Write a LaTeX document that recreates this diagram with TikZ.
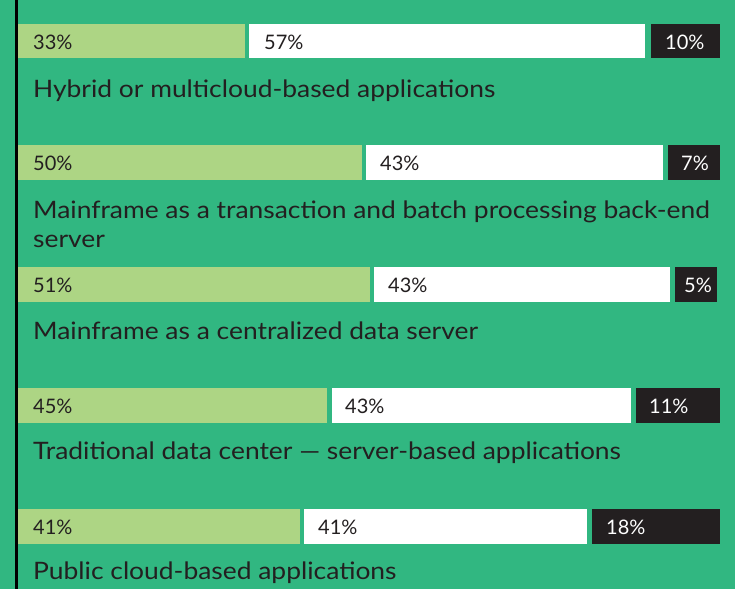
\documentclass[tikz,border=0pt]{standalone}
\usepackage{fontspec}
\setmainfont{Lato}
\newfontfamily\wideLato{Lato}[FakeStretch=1.1]
\usetikzlibrary{positioning}
\definecolor{bgGreen}{HTML}{31B781}
\definecolor{barGreen}{HTML}{ADD584}
\definecolor{barBlack}{HTML}{231F20}
\definecolor{inkDark}{HTML}{231F20}
\begin{document}
\begin{tikzpicture}[x=1pt, y=-1pt,
    pct/.style={anchor=base west, inner sep=0pt, font=\fontsize{20}{22}\selectfont, text=inkDark},
    pctw/.style={pct, text=white},
    lbl/.style={anchor=base west, inner sep=0pt, align=left, font=\wideLato\fontsize{24}{29}\selectfont, text=inkDark}]
    \fill[bgGreen] (0,0) rectangle (735,589);
    \useasboundingbox (0,0) rectangle (735,589);
    \draw[black, line width=2.5pt] (16.5,0) to (16.5,589);
    % Hybrid or multicloud
    \fill[barGreen] (18,24) rectangle (245,58);
    \fill[white] (249,24) rectangle (645,58);
    \fill[barBlack] (651,24) rectangle (720,58);
    \node[pct] (hyA) at (33,49) {33\%};
    \node[pct] (hyB) at (264,49) {57\%};
    \node[pctw] (hyC) at (665,49) {10\%};
    \node[lbl] (hyL) at (33,97) {Hybrid or multicloud-based applications};
    % Mainframe back-end
    \fill[barGreen] (18,145) rectangle (362,180);
    \fill[white] (366,145) rectangle (663,180);
    \fill[barBlack] (668,145) rectangle (720,180);
    \node[pct] (mbA) at (33,170) {50\%};
    \node[pct] (mbB) at (380,170) {43\%};
    \node[pctw] (mbC) at (681,170) {7\%};
    \node[lbl] (mbL) at (33,247) {Mainframe as a transaction and batch processing back-end\\server};
    % Mainframe data server
    \fill[barGreen] (18,267) rectangle (370,302);
    \fill[white] (374,267) rectangle (670,302);
    \fill[barBlack] (675,267) rectangle (717,302);
    \node[pct] (mdA) at (33,292) {51\%};
    \node[pct] (mdB) at (388,292) {43\%};
    \node[pctw] (mdC) at (684,292) {5\%};
    \node[lbl] (mdL) at (33,339) {Mainframe as a centralized data server};
    % Traditional data center
    \fill[barGreen] (18,388) rectangle (327,423);
    \fill[white] (332,388) rectangle (631,423);
    \fill[barBlack] (636,388) rectangle (720,423);
    \node[pct] (tdA) at (33,413) {45\%};
    \node[pct] (tdB) at (345,413) {43\%};
    \node[pctw] (tdC) at (649,413) {11\%};
    \node[lbl] (tdL) at (33,459) {Traditional data center — server-based applications};
    % Public cloud
    \fill[barGreen] (18,509) rectangle (300,544);
    \fill[white] (304,509) rectangle (587,544);
    \fill[barBlack] (592,509) rectangle (720,544);
    \node[pct] (pcA) at (33,534) {41\%};
    \node[pct] (pcB) at (318,534) {41\%};
    \node[pctw] (pcC) at (606,534) {18\%};
    \node[lbl] (pcL) at (33,579) {Public cloud-based applications};
\end{tikzpicture}
\end{document}
